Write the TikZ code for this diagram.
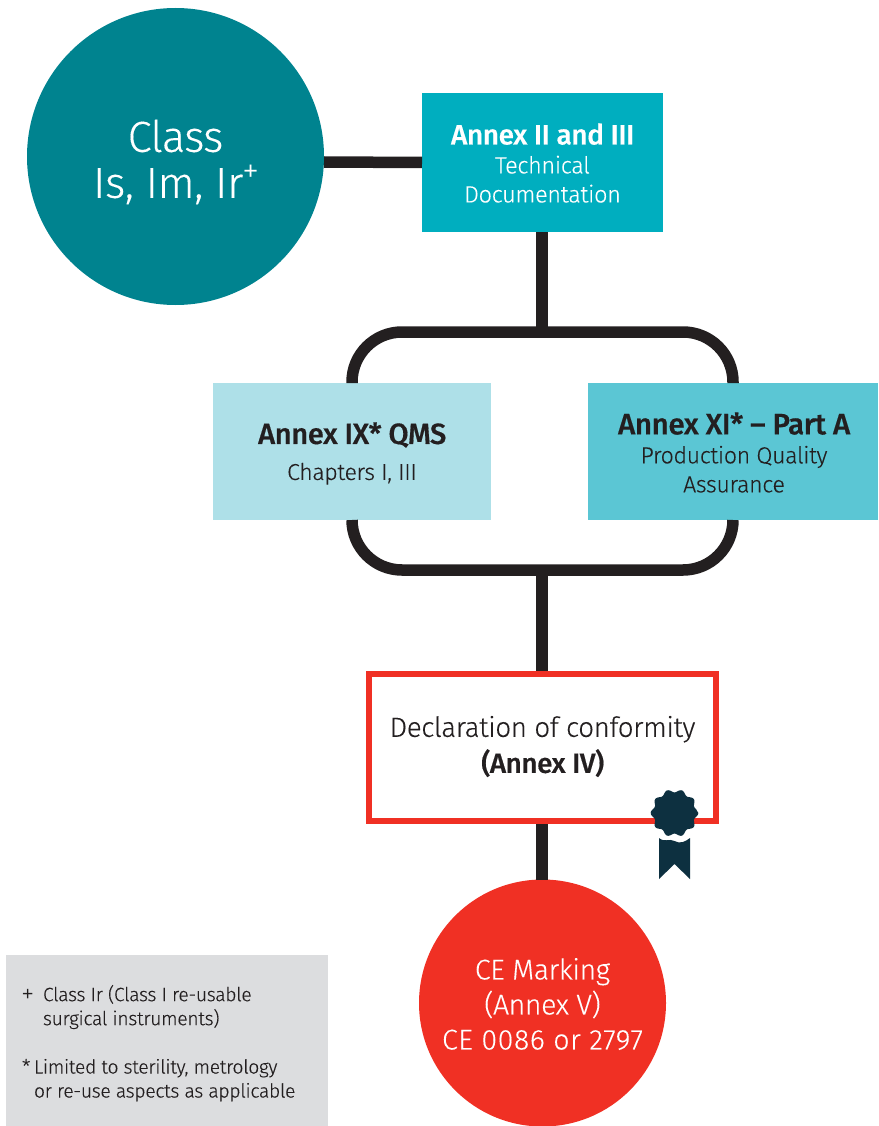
\documentclass[tikz,border=0pt]{standalone}
\usepackage{fontspec}
\setmainfont{Fira Sans Light}[FakeBold=0.2,BoldFont={Fira Sans Medium},BoldFeatures={FakeBold=0.5},LetterSpace=-1.5]
\newfontfamily\plusfont{Liberation Sans}
\definecolor{teal1}{HTML}{00838F}
\definecolor{cyan1}{HTML}{00AEBF}
\definecolor{pale1}{HTML}{AEE0E8}
\definecolor{mid1}{HTML}{5BC6D4}
\definecolor{red1}{HTML}{F03024}
\definecolor{seal1}{HTML}{0D3040}
\definecolor{ink1}{HTML}{231F20}
\definecolor{grey1}{HTML}{DCDDDF}
\tikzset{
  x=1pt,y=-1pt,
  wire/.style={draw=ink1,line width=11.5pt},
  boxn/.style={rectangle,inner sep=0pt,outer sep=0pt,align=center,text=ink1},
  circn/.style={circle,inner sep=0pt,outer sep=0pt,align=center,text=white},
  notetext/.style={boxn,anchor=north west,align=left,font=\fontsize{19.3}{24}\selectfont},
}
\begin{document}
\begin{tikzpicture}
\useasboundingbox (0,0) rectangle (878,1126);
% shapes
\node[circn,fill=teal1,minimum size=297pt] (class) at (175.5,156.5) {};
\node[boxn,fill=cyan1,minimum width=241pt,minimum height=139pt] (tech) at (542.5,162.5) {};
\node[boxn,fill=pale1,minimum width=278pt,minimum height=137pt] (qms) at (352,451.5) {};
\node[boxn,fill=mid1,minimum width=290pt,minimum height=137pt] (pqa) at (733,451.5) {};
\node[boxn,draw=red1,fill=white,line width=6pt,minimum width=347pt,minimum height=147pt] (doc) at (542.5,747.5) {};
\node[circn,fill=red1,minimum size=247pt] (ce) at (542.5,1003) {};
\node[boxn,fill=grey1,minimum width=322pt,minimum height=171pt] (note) at (167,1040.5) {};
% wire junction points (on the shape edges)
\coordinate (top) at (542,332);
\coordinate (bot) at (542,570);
\coordinate (classR) at (class.east |- 0,162);
\coordinate (techB) at (542,232);
\coordinate (techL) at (tech.west);
\coordinate (qmsN) at (qms.north);
\coordinate (qmsS) at (qms.south);
\coordinate (pqaN) at (pqa.north);
\coordinate (pqaS) at (pqa.south);
\coordinate (docN) at (542,671);
\coordinate (docS) at (542,824);
\coordinate (ceN) at (542,880);
% connectors
\draw[wire] (classR) -- (techL);
\draw[wire] (techB) -- (top);
\draw[wire,rounded corners=50pt] (qmsN) -- (qmsN |- top) -- (pqaN |- top) -- (pqaN);
\draw[wire,rounded corners=50pt] (qmsS) -- (qmsS |- bot) -- (pqaS |- bot) -- (pqaS);
\draw[wire] (bot) -- (docN);
\draw[wire] (docS) -- (ceN);
% texts
\node[circn,font=\fontsize{43.5}{46}\selectfont] (classT) at (175.5,162) {Class\\\addfontfeature{LetterSpace=-0.8}Is, Im, Ir\raisebox{0.42em}{\plusfont\fontsize{25}{25}\selectfont +}};
\node[boxn,text=white,font=\fontsize{23.5}{29}\selectfont] (techT) at (542.5,163) {\fontsize{28}{32}\selectfont\textbf{Annex II and III}\\Technical\\Documentation};
\node[boxn,font=\fontsize{23}{36}\selectfont] (qmsT) at (352,453.5) {\fontsize{29.2}{36}\selectfont\textbf{Annex IX* QMS}\\Chapters I, III};
\node[boxn,font=\fontsize{23.2}{29}\selectfont] (pqaT) at (734,452.5) {\fontsize{29.6}{31}\selectfont\textbf{Annex XI* – Part A}\\Production Quality\\Assurance};
\node[boxn,font=\fontsize{27.8}{36}\selectfont] (docT) at (542.5,746.5) {Declaration of conformity\\\textbf{(Annex IV)}};
\node[circn,font=\fontsize{28.5}{35}\selectfont] (ceT) at (542.5,1004) {CE Marking\\(Annex V)\\\addfontfeature{LetterSpace=2}CE 0086 or 2797};
\node[notetext] (n1) at (43,985) {Class Ir (Class I re-usable\\surgical instruments)};
\node[notetext] (n1p) at (22,989) {\plusfont +};
\node[notetext] (n2) at (34,1059) {Limited to sterility, metrology\\or re-use aspects as applicable};
\node[notetext] (n2s) at (22,1059) {*};
% seal and ribbon
\fill[white] (655,835) rectangle (694,882);
\fill[seal1] (659,838) .. controls (665,843) and (669,838) .. (674.5,841) .. controls (680,844) and (685,842) .. (690,838) -- (690,879) -- (674.5,864) -- (659,879) -- cycle;
\fill[seal1] plot[domain=0:350,samples=144,smooth] ({674.5+(22.2+1.6*cos(10*\x))*cos(\x)},{813+(22.2+1.6*cos(10*\x))*sin(\x)}) -- cycle;
\end{tikzpicture}
\end{document}
